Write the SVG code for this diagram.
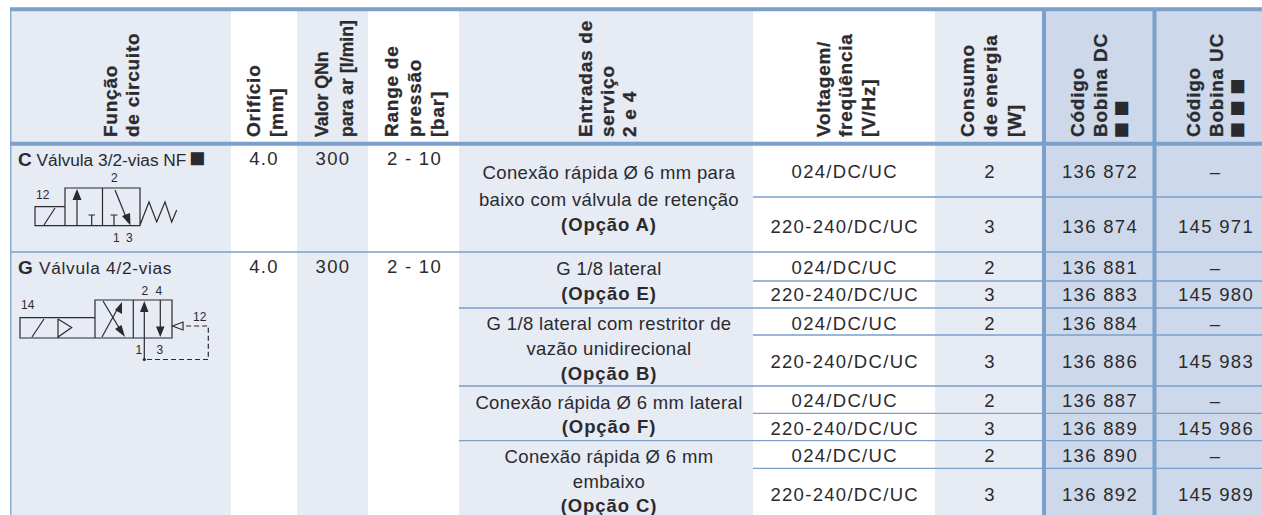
<svg xmlns="http://www.w3.org/2000/svg" width="1262" height="515" viewBox="0 0 1262 515">
<style>
text{font-family:"Liberation Sans",Arial,sans-serif;fill:#2b2a2e}
.b{font-size:18.5px;letter-spacing:.35px;text-anchor:middle}
.v{letter-spacing:1.3px}
.o{font-size:18.5px;letter-spacing:.9px;text-anchor:middle;font-weight:700}
.h{font-size:19px;font-weight:700;letter-spacing:.75px;stroke:#2b2a2e;stroke-width:.3px}
.q{font-size:17.7px;font-weight:700;stroke:#2b2a2e;stroke-width:.3px}
.s{font-size:27px;font-weight:700;letter-spacing:-1px}
.t{font-size:17.3px}
.l{font-size:12px}
.k{fill:none;stroke:#2b2a2e;stroke-width:1.2}
.f{fill:#2b2a2e;stroke:none}
.d{fill:none;stroke:#2b2a2e;stroke-width:1.2;stroke-dasharray:5 3}
.m{stroke:#7ba0cc;fill:none;stroke-width:1.3}
.n{stroke:#7ba0cc;fill:none;stroke-width:4}
</style>
<g id="backgrounds">
<rect x="0" y="0" width="1262" height="515" fill="#fff"/>
<rect x="11" y="9" width="220" height="506" fill="#e6ebf4"/>
<rect x="297" y="9" width="71" height="506" fill="#e6ebf4"/>
<rect x="459" y="9" width="294" height="506" fill="#e6ebf4"/>
<rect x="935" y="9" width="107" height="506" fill="#e6ebf4"/>
<rect x="1042" y="9" width="220" height="506" fill="#cdd9ea"/>
</g>
<g id="rules">
<path class="n" d="M10 9.3H1262M10 143.7H1262"/>
<path class="n" d="M1044 9V515M1154.5 9V515" stroke-width="3"/>
<path class="m" d="M10.8 8V515" stroke-width="1.6"/>
<path class="m" d="M11 252H1262M459 308H1262M459 386H1262M459 440.7H1262"/>
<path class="m" d="M753 197H1262M753 281H1262M753 335H1262M753 413.3H1262M753 468.3H1262"/>
</g>
<g id="header">
<text class="h" transform="translate(117,137) rotate(-90)">Função</text>
<text class="h" transform="translate(139,137) rotate(-90)">de circuito</text>
<text class="h" transform="translate(260,137) rotate(-90)">Orifício</text>
<text class="h" transform="translate(283,137) rotate(-90)">[mm]</text>
<text class="q" transform="translate(328,137) rotate(-90)">Valor QNn</text>
<text class="q" transform="translate(353,137) rotate(-90)">para ar [l/min]</text>
<text class="h" transform="translate(398,137) rotate(-90)">Range de</text>
<text class="h" transform="translate(421,137) rotate(-90)">pressão</text>
<text class="h" transform="translate(444,137) rotate(-90)">[bar]</text>
<text class="h" transform="translate(592,137) rotate(-90)">Entradas de</text>
<text class="h" transform="translate(614,137) rotate(-90)">serviço</text>
<text class="h" transform="translate(636,137) rotate(-90)">2 e 4</text>
<text class="h" transform="translate(830,137) rotate(-90)">Voltagem/</text>
<text class="h" transform="translate(852,137) rotate(-90)">freqüência</text>
<text class="h" transform="translate(875,137) rotate(-90)">[V/Hz]</text>
<text class="h" transform="translate(974,137) rotate(-90)">Consumo</text>
<text class="h" transform="translate(997,137) rotate(-90)">de energia</text>
<text class="h" transform="translate(1021,137) rotate(-90)">[W]</text>
<text class="h" transform="translate(1084,137) rotate(-90)">Código</text>
<text class="h" transform="translate(1107,137) rotate(-90)">Bobina DC</text>
<text class="s" transform="translate(1130,138.5) rotate(-90)">■ ■</text>
<text class="h" transform="translate(1200,137) rotate(-90)">Código</text>
<text class="h" transform="translate(1223,137) rotate(-90)">Bobina UC</text>
<text class="s" transform="translate(1246,138.5) rotate(-90)">■ ■ ■</text>
</g>
<g id="row-c">
<text x="18" y="166" class="t"><tspan font-weight="700" font-size="19">C</tspan> Válvula 3/2-vias NF</text>
<text x="189" y="167" class="s">■</text>
<g id="symbol-c">
<path class="k" d="M65 188H140V225.7H65ZM102.5 188V225.7M35 206.7H65V225.7H35ZM44 225L55 208M77 225.7V198M91.7 225.7V215M88.5 215H95M114 225.7V215M110.5 215H117.5M115 190L128 222M140 225L149 202L156.7 222L165 202L171.7 222L176.7 210"/>
<path class="f" d="M77 189L81.5 200H72.5ZM130.5 225.5L122 216L130 213Z"/>
<text class="l" x="36" y="199">12</text><text class="l" x="111" y="182">2</text><text class="l" x="113" y="242">1</text><text class="l" x="126" y="242">3</text>
</g>
<text class="b v" x="264" y="165">4.0</text><text class="b v" x="333" y="165">300</text><text class="b v" x="414.5" y="165">2 - 10</text>
<text class="b" x="609" y="179">Conexão rápida Ø 6 mm para</text>
<text class="b" x="609" y="206">baixo com válvula de retenção</text>
<text class="o" x="609" y="231">(Opção A)</text>
</g>
<g id="row-g">
<text x="18" y="274" class="t" style="letter-spacing:.7px"><tspan font-weight="700" font-size="19">G</tspan> Válvula 4/2-vias</text>
<g id="symbol-g">
<path class="k" d="M95 300H172V338H95ZM133.3 300V338M20 317.7H95V338H20ZM32 337L44 319M58 319V337L71.7 327.5L58 319M103 301L121 331M102 337L118 308M144.3 360V310M160.3 300V328"/>
<path class="f" d="M125 337L115 329L121.5 325ZM122 302L122 314L115 310ZM144.3 301L148.5 312H140ZM160.3 337L156 326.5H164.5Z"/>
<circle class="f" cx="144.3" cy="359.5" r="1.6"/>
<path class="d" d="M147 359.5H208.3V326H183"/>
<path class="k" d="M172.5 326L183 322V330Z"/>
<text class="l" x="21" y="309">14</text><text class="l" x="141.5" y="295">2</text><text class="l" x="155.5" y="295">4</text><text class="l" x="135.5" y="354">1</text><text class="l" x="156.5" y="354">3</text><text class="l" x="193" y="321">12</text>
</g>
<text class="b v" x="264" y="273">4.0</text><text class="b v" x="333" y="273">300</text><text class="b v" x="414.5" y="273">2 - 10</text>
<text class="b" x="609" y="275">G 1/8 lateral</text>
<text class="o" x="609" y="300">(Opção E)</text>
<text class="b" x="609" y="330">G 1/8 lateral com restritor de</text>
<text class="b" x="609" y="355">vazão unidirecional</text>
<text class="o" x="609" y="380">(Opção B)</text>
<text class="b" x="609" y="409">Conexão rápida Ø 6 mm lateral</text>
<text class="o" x="609" y="433">(Opção F)</text>
<text class="b" x="609" y="463">Conexão rápida Ø 6 mm</text>
<text class="b" x="609" y="488">embaixo</text>
<text class="o" x="609" y="512">(Opção C)</text>
</g>
<g id="voltage">
<text class="b v" x="844.7" y="178">024/DC/UC</text><text class="b v" x="844.7" y="233">220-240/DC/UC</text>
<text class="b v" x="844.7" y="274">024/DC/UC</text><text class="b v" x="844.7" y="301">220-240/DC/UC</text>
<text class="b v" x="844.7" y="330">024/DC/UC</text><text class="b v" x="844.7" y="368">220-240/DC/UC</text>
<text class="b v" x="844.7" y="407">024/DC/UC</text><text class="b v" x="844.7" y="435">220-240/DC/UC</text>
<text class="b v" x="844.7" y="462">024/DC/UC</text><text class="b v" x="844.7" y="501">220-240/DC/UC</text>
</g>
<g id="power">
<text class="b" x="989.5" y="178">2</text><text class="b" x="989.5" y="233">3</text>
<text class="b" x="989.5" y="274">2</text><text class="b" x="989.5" y="301">3</text>
<text class="b" x="989.5" y="330">2</text><text class="b" x="989.5" y="368">3</text>
<text class="b" x="989.5" y="407">2</text><text class="b" x="989.5" y="435">3</text>
<text class="b" x="989.5" y="462">2</text><text class="b" x="989.5" y="501">3</text>
</g>
<g id="code-dc">
<text class="b v" x="1100" y="178">136 872</text><text class="b v" x="1100" y="233">136 874</text>
<text class="b v" x="1100" y="274">136 881</text><text class="b v" x="1100" y="301">136 883</text>
<text class="b v" x="1100" y="330">136 884</text><text class="b v" x="1100" y="368">136 886</text>
<text class="b v" x="1100" y="407">136 887</text><text class="b v" x="1100" y="435">136 889</text>
<text class="b v" x="1100" y="462">136 890</text><text class="b v" x="1100" y="501">136 892</text>
</g>
<g id="code-uc">
<text class="b" x="1215" y="178">–</text><text class="b v" x="1216" y="233">145 971</text>
<text class="b" x="1215" y="274">–</text><text class="b v" x="1216" y="301">145 980</text>
<text class="b" x="1215" y="330">–</text><text class="b v" x="1216" y="368">145 983</text>
<text class="b" x="1215" y="407">–</text><text class="b v" x="1216" y="435">145 986</text>
<text class="b" x="1215" y="462">–</text><text class="b v" x="1216" y="501">145 989</text>
</g>
</svg>
